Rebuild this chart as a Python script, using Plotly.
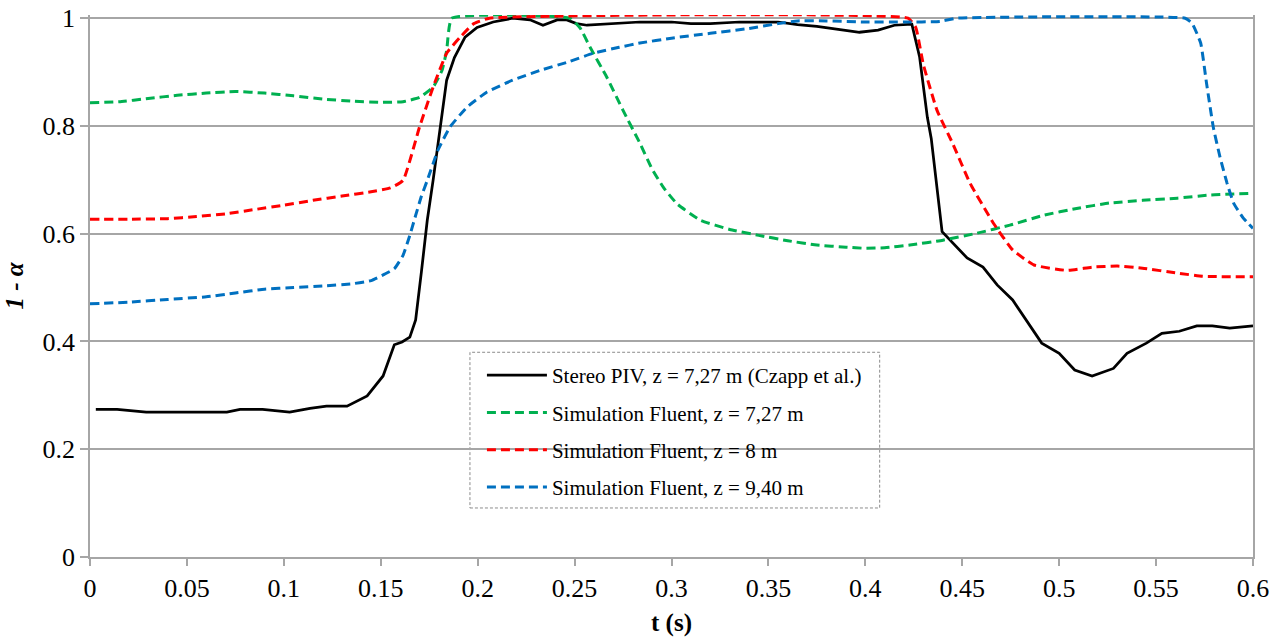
import plotly.graph_objects as go

# Stereo PIV, z = 7,27 m (Czapp et al.)
t_piv = [0.003, 0.014, 0.029, 0.043, 0.0706, 0.0774, 0.089, 0.103, 0.1135, 0.122, 0.1326, 0.143,
         0.1512, 0.157, 0.161, 0.165, 0.168, 0.171, 0.174, 0.177, 0.1796, 0.1816, 0.184, 0.188,
         0.1935, 0.1997, 0.208, 0.218, 0.227, 0.2337, 0.241, 0.246, 0.251, 0.2564, 0.27, 0.2837,
         0.3, 0.31, 0.32, 0.335, 0.355, 0.365, 0.375, 0.385, 0.397, 0.4066, 0.415, 0.424, 0.428,
         0.432, 0.434, 0.4396, 0.4525, 0.4607, 0.468, 0.476, 0.491, 0.5, 0.508, 0.517, 0.528,
         0.535, 0.545, 0.553, 0.562, 0.571, 0.579, 0.588, 0.6]
v_piv = [0.274, 0.274, 0.269, 0.269, 0.269, 0.274, 0.274, 0.269, 0.276, 0.28, 0.28, 0.299,
         0.336, 0.394, 0.399, 0.408, 0.44, 0.53, 0.625, 0.699, 0.768, 0.829, 0.885, 0.927,
         0.965, 0.983, 0.993, 1.0, 0.997, 0.987, 0.997, 0.997, 0.99, 0.987, 0.99, 0.993,
         0.993, 0.99, 0.99, 0.993, 0.993, 0.988, 0.985, 0.98, 0.974, 0.978, 0.987, 0.989, 0.928,
         0.816, 0.777, 0.604, 0.555, 0.538, 0.505, 0.477, 0.397, 0.378, 0.347, 0.336, 0.35,
         0.378, 0.397, 0.415, 0.419, 0.429, 0.429, 0.425, 0.429]

# Simulation Fluent, z = 7,27 m
t_g = [0.0, 0.015, 0.03, 0.045, 0.06, 0.075, 0.09, 0.105, 0.12, 0.135, 0.15, 0.1615, 0.17, 0.177,
       0.1816, 0.184, 0.1867, 0.2476, 0.253, 0.258, 0.2667, 0.275, 0.2837, 0.29, 0.296, 0.303,
       0.315, 0.33, 0.345, 0.36, 0.375, 0.39, 0.4, 0.41, 0.423, 0.44, 0.4576, 0.4746, 0.4917,
       0.509, 0.526, 0.543, 0.561, 0.578, 0.6]
v_g = [0.843, 0.845, 0.851, 0.857, 0.861, 0.864, 0.861, 0.856, 0.85, 0.846, 0.844, 0.845, 0.853,
       0.872, 0.903, 0.94, 1.0, 1.0, 0.981, 0.946, 0.89, 0.829, 0.768, 0.72, 0.685, 0.655,
       0.625, 0.608, 0.597, 0.587, 0.579, 0.575, 0.573, 0.574, 0.579, 0.588, 0.601, 0.616, 0.634,
       0.647, 0.657, 0.662, 0.666, 0.672, 0.675]

# Simulation Fluent, z = 8 m
t_r = [0.0, 0.02, 0.04, 0.055, 0.07, 0.085, 0.1, 0.115, 0.13, 0.145, 0.155, 0.1615, 0.17, 0.177,
       0.184, 0.191, 0.198, 0.206, 0.422, 0.426, 0.43, 0.437, 0.445, 0.454, 0.466, 0.476, 0.487,
       0.504, 0.517, 0.53, 0.543, 0.561, 0.574, 0.6]
v_r = [0.627, 0.627, 0.628, 0.632, 0.637, 0.645, 0.653, 0.662, 0.67, 0.678, 0.685, 0.699, 0.798,
       0.872, 0.935, 0.965, 0.99, 1.0, 1.0, 0.983, 0.913, 0.829, 0.768, 0.694, 0.62, 0.57, 0.542,
       0.532, 0.538, 0.54, 0.536, 0.527, 0.521, 0.52]

# Simulation Fluent, z = 9,40 m
t_b = [0.0, 0.02, 0.04, 0.06, 0.075, 0.09, 0.105, 0.12, 0.135, 0.145, 0.152, 0.157, 0.1615, 0.165,
       0.168, 0.171, 0.174, 0.1795, 0.1857, 0.1945, 0.2048, 0.218, 0.232, 0.246, 0.2595, 0.273,
       0.2837, 0.3, 0.32, 0.34, 0.355, 0.365, 0.38, 0.4, 0.42, 0.4385, 0.447, 0.565, 0.5685,
       0.573, 0.576, 0.5795, 0.583, 0.5866, 0.59, 0.595, 0.6]
v_b = [0.47, 0.473, 0.478, 0.483, 0.49, 0.497, 0.5, 0.503, 0.507, 0.513, 0.525, 0.535, 0.56, 0.597,
       0.634, 0.67, 0.699, 0.755, 0.798, 0.835, 0.863, 0.885, 0.903, 0.918, 0.935, 0.946,
       0.954, 0.963, 0.972, 0.981, 0.99, 0.995, 0.995, 0.993, 0.993, 0.994, 1.0, 1.0, 0.991,
       0.954, 0.88, 0.798, 0.742, 0.694, 0.657, 0.629, 0.61]

x_tickvals = [0, 0.05, 0.1, 0.15, 0.2, 0.25, 0.3, 0.35, 0.4, 0.45, 0.5, 0.55, 0.6]
x_ticktext = ["0", "0.05", "0.1", "0.15", "0.2", "0.25", "0.3", "0.35", "0.4", "0.45", "0.5", "0.55", "0.6"]
y_tickvals = [0, 0.2, 0.4, 0.6, 0.8, 1]
y_ticktext = ["0", "0.2", "0.4", "0.6", "0.8", "1"]

names = ["Stereo PIV, z = 7,27 m (Czapp et al.)", "Simulation Fluent, z = 7,27 m",
         "Simulation Fluent, z = 8 m", "Simulation Fluent, z = 9,40 m"]

FONT = "Liberation Serif, Times New Roman, serif"
DASH = "9px,5px"

fig = go.Figure()
fig.add_trace(go.Scatter(x=t_piv, y=v_piv, mode="lines", name=names[0], legendgroup="a",
                         line=dict(color="#000000", width=2.75)))
fig.add_trace(go.Scatter(x=t_g, y=v_g, mode="lines", name=names[1], legendgroup="b",
                         line=dict(color="#00B050", width=3, dash=DASH, shape="spline", smoothing=0.4)))
fig.add_trace(go.Scatter(x=t_r, y=v_r, mode="lines", name=names[2], legendgroup="c",
                         line=dict(color="#FF0000", width=3, dash=DASH, shape="spline", smoothing=0.4)))
fig.add_trace(go.Scatter(x=t_b, y=v_b, mode="lines", name=names[3], legendgroup="d",
                         line=dict(color="#0070C0", width=3, dash=DASH, shape="spline", smoothing=0.4)))

# plot area spans y 0..1.006 so the lines lying on 1.0 are not clipped
Y_TOP = 1.006
fig.add_shape(type="rect", xref="paper", yref="paper", x0=0.3267, x1=0.679,
              y0=0.091 / Y_TOP, y1=0.380 / Y_TOP,
              line=dict(color="#8C8C8C", width=1, dash="3px,2px"), fillcolor="white", layer="between")

fig.update_layout(
    width=1279, height=637,
    margin=dict(l=90, r=26, t=15, b=80, autoexpand=False),
    paper_bgcolor="white", plot_bgcolor="white",
    font=dict(family=FONT, color="#000000", size=26),
    showlegend=True,
    legend=dict(x=0.337, y=0.375 / Y_TOP, xanchor="left", yanchor="top",
                bgcolor="rgba(0,0,0,0)", borderwidth=0,
                font=dict(family=FONT, size=21, color="#000000"),
                tracegroupgap=7, itemwidth=60),
    xaxis=dict(range=[0, 0.6], tickvals=x_tickvals, ticktext=x_ticktext, automargin=False,
               showgrid=False, zeroline=False, showline=True, linecolor="#A6A6A6", linewidth=1.5,
               ticks="outside", ticklen=7, tickcolor="#A6A6A6", tickwidth=1.5,
               tickfont=dict(family=FONT, size=26),
               title=dict(text="<b>t (s)</b>", font=dict(family=FONT, size=25), standoff=12)),
    yaxis=dict(range=[0, Y_TOP], tickvals=y_tickvals, ticktext=y_ticktext, automargin=False,
               showgrid=True, gridcolor="#A6A6A6", gridwidth=1.5, zeroline=False,
               showline=True, linecolor="#A6A6A6", linewidth=1.5, mirror=True,
               ticks="outside", ticklen=8, tickcolor="#A6A6A6", tickwidth=1.5,
               tickfont=dict(family=FONT, size=26),
               title=dict(text="<b><i>1 - α</i></b>", font=dict(family=FONT, size=25), standoff=12)),
)

fig.write_html("out.html", config={"displayModeBar": False},
               post_script="document.body.style.margin='0';")
